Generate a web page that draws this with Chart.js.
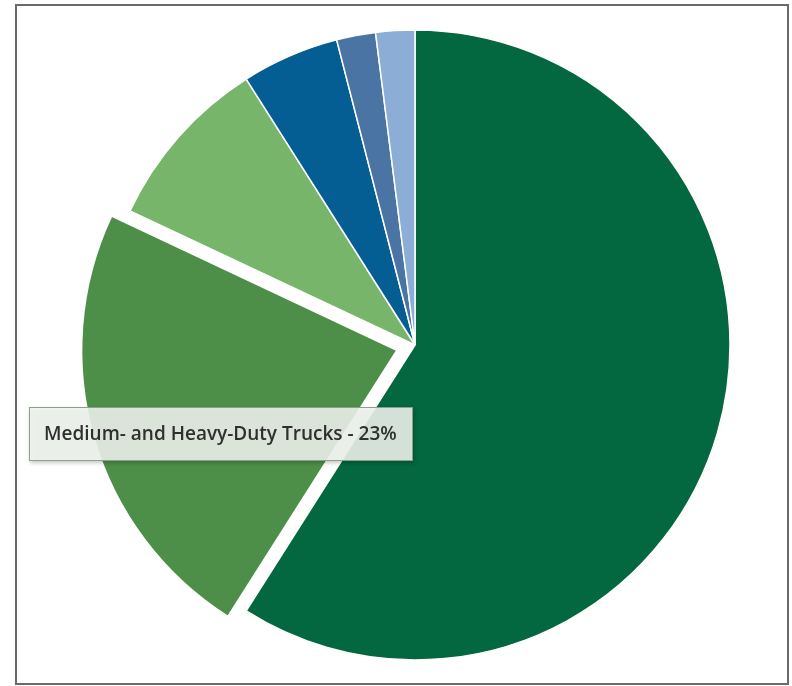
<!DOCTYPE html>
<html lang="en">
<head>
  <meta charset="UTF-8" />
  <title>Transportation Emissions by Source</title>
  <script src="https://cdn.jsdelivr.net/npm/chart.js"></script>
  <style>
    body {
      margin: 0;
      background: #fff;
    }
    .wrap {
      position: relative;
      width: 792px;
      height: 686px;
    }
    .frame {
      position: absolute;
      left: 15px;
      top: 4px;
      width: 770px;
      height: 677px;
      border: 2px solid #6a6a6a;
    }
    canvas {
      position: absolute;
      left: 0;
      top: 0;
    }
  </style>
</head>
<body>
  <div class="wrap">
    <div class="frame"></div>
    <canvas id="pie" width="792" height="686"></canvas>
  </div>
  <script>
    const labels = ['Light-Duty Vehicles', 'Medium- and Heavy-Duty Trucks', 'Aircraft', 'Other', 'Rail', 'Ships and Boats'];
    const shares = [59, 23, 9, 5, 2, 2];
    const colors = ['#03673f', '#4d8e48', '#77b56b', '#045d93', '#4a74a4', '#8cadd6'];
    // chart.js draws arcs shifted by offset / 4
    const offsets = [0, 76, 0, 0, 0, 0];
    const highlighted = 1;

    // draws the hover label box for the exploded slice
    const labelBox = {
      id: 'labelBox',
      afterDraw(chart) {
        const ctx = chart.ctx;
        const text = labels[highlighted] + ' - ' + shares[highlighted] + '%';
        const x = 29, y = 407, w = 384, h = 54;
        ctx.save();
        ctx.shadowColor = 'rgba(0,0,0,0.25)';
        ctx.shadowBlur = 4;
        ctx.shadowOffsetX = 1;
        ctx.shadowOffsetY = 2;
        ctx.fillStyle = 'rgba(240,245,239,0.88)';
        ctx.fillRect(x, y, w, h);
        ctx.shadowColor = 'transparent';
        ctx.strokeStyle = '#8e9f8c';
        ctx.lineWidth = 1;
        ctx.strokeRect(x + 0.5, y + 0.5, w - 1, h - 1);
        ctx.fillStyle = '#2f2f2f';
        ctx.font = '600 19px "Open Sans", sans-serif';
        ctx.textBaseline = 'middle';
        ctx.fillText(text, 44, y + h / 2 + 1);
        ctx.restore();
      }
    };

    new Chart(document.getElementById('pie'), {
      type: 'pie',
      data: {
        labels: labels,
        datasets: [{
          data: shares,
          backgroundColor: colors,
          borderColor: '#fff',
          borderWidth: 1.5,
          offset: offsets,
          hoverOffset: 0
        }]
      },
      options: {
        responsive: false,
        animation: false,
        events: [],
        radius: 315,
        layout: { padding: { left: 40, right: 2, top: 4, bottom: 0 } },
        plugins: {
          legend: { display: false },
          tooltip: { enabled: false }
        }
      },
      plugins: [labelBox]
    });
  </script>
</body>
</html>
